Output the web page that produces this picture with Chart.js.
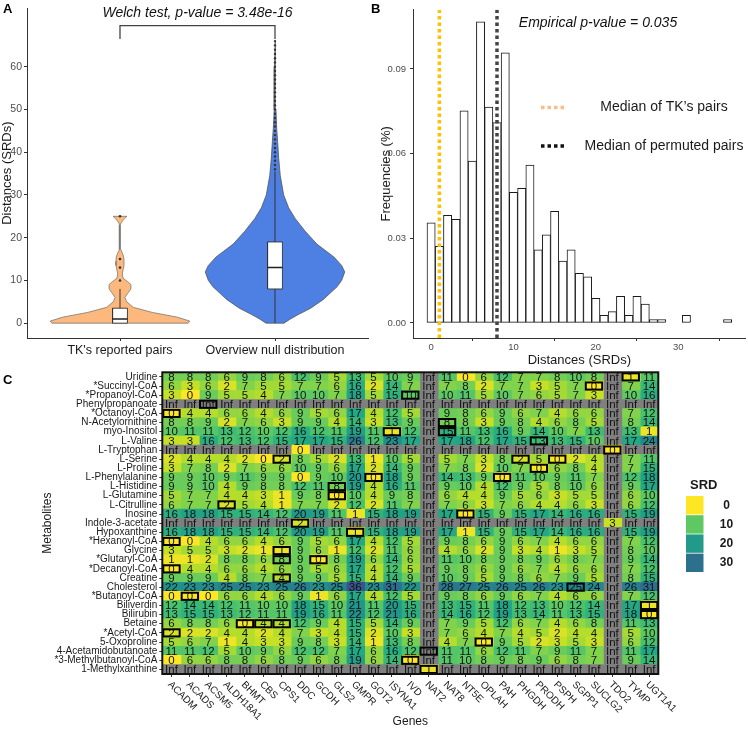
<!DOCTYPE html>
<html>
<head>
<meta charset="utf-8">
<script src="https://cdn.jsdelivr.net/npm/chart.js@4.4.1/dist/chart.umd.min.js"></script>
<style>
  body { margin: 0; background: #fff; }
  #wrap { position: relative; width: 748px; height: 729px; overflow: hidden; }
  canvas { position: absolute; }
</style>
</head>
<body>
<div id="wrap">
  <canvas id="violin" width="374" height="366" style="left:0;top:0"></canvas>
  <canvas id="hist" width="382" height="368" style="left:366px;top:0"></canvas>
  <canvas id="heat" width="748" height="389" style="left:0;top:340px"></canvas>
</div>
<script>
const FONT = '"Liberation Sans", Arial, Helvetica, sans-serif';
Chart.defaults.font.family = FONT;

// ---- panel A : violins ----
const groupsA = ["TK's reported pairs", "Overview null distribution"];
const groupPos = [1, 2];
const yTicksA = [0, 10, 20, 30, 40, 50, 60];
const tkViolinY = [0, 0.5, 1.4, 2.5, 3.7, 5, 6, 7, 8, 9, 9.7, 10.5, 11.5, 12.5, 13.5, 14.5, 15.5, 16.5, 17.2, 18, 20, 22, 23, 23.5, 24, 24.5, 25];
const tkViolinW = [0.44, 0.45, 0.37, 0.21, 0.086, 0.043, 0.032, 0.05, 0.07, 0.071, 0.05, 0.02, 0.015, 0.02, 0.026, 0.026, 0.024, 0.014, 0.006, 0.003, 0.003, 0.003, 0.004, 0.008, 0.018, 0.03, 0.045];
const nullViolinY = [0, 1, 2, 3.5, 5.5, 8.5, 10, 12, 13.5, 15.5, 18.5, 21.5, 24.5, 27, 30, 34.5, 38.5, 42.5, 45.5, 50, 55, 60, 66];
const nullViolinW = [0.058, 0.1, 0.15, 0.23, 0.31, 0.4, 0.43, 0.45, 0.43, 0.38, 0.27, 0.195, 0.13, 0.088, 0.056, 0.034, 0.024, 0.017, 0.011, 0.006, 0.004, 0.003, 0];
const boxQ1 = [0, 8];
const boxMedian = [1, 13];
const boxQ3 = [3.5, 19];
const whiskerLo = [0, 0];
const whiskerHi = [8, 35.5];
const tkOutliers = [10, 13, 15, 25];
const nullOutliers = [36, 37, 38, 39, 40, 41, 42, 43, 44, 45, 46, 47, 48, 49, 50, 51, 52, 53, 54, 55, 56, 57, 58, 59, 60, 61, 62, 63, 64, 65, 66];
const bracketY = [66.5, 69.6];

// ---- panel B : histogram ----
const histBins = [0, 1, 2, 3, 4, 5, 6, 7, 8, 9, 10, 11, 12, 13, 14, 15, 16, 17, 18, 19, 20, 21, 22, 23, 24, 25, 26, 27, 28, 29, 30, 31, 32, 33, 34, 35, 36];
const histFreq = [0.0355, 0.0271, 0.0381, 0.0367, 0.0751, 0.0573, 0.1067, 0.0765, 0.0710, 0.0957, 0.0463, 0.0477, 0.0559, 0.0259, 0.0312, 0.0395, 0.0219, 0.0259, 0.0176, 0.0163, 0.0087, 0.0027, 0.0040, 0.0094, 0.0027, 0.0094, 0.0067, 0.0012, 0.0012, 0, 0, 0.0027, 0, 0, 0, 0, 0.0012];
const histXTicks = [0, 10, 20, 30];
const histYTicks = [0, 0.03, 0.06, 0.09];
const medianTK = 1;
const medianPermuted = 8;

// ---- panel C : heatmap ----
const genes = ["ACADM", "ACADS", "ACSM5", "ALDH18A1", "BHMT", "CBS", "CPS1", "DDC", "GCDH", "GLS2", "GMPR", "GOT2", "ISYNA1", "IVD", "NAT2", "NAT8", "NT5E", "OPLAH", "PAH", "PHGDH", "PRODH", "PSPH", "SGPP1", "SUCLG2", "TDO2", "TYMP", "UGT1A1"];
const metabolites = ["Uridine", "*Succinyl-CoA", "*Propanoyl-CoA", "Phenylpropanoate", "*Octanoyl-CoA", "N-Acetylornithine", "myo-Inositol", "L-Valine", "L-Tryptophan", "L-Serine", "L-Proline", "L-Phenylalanine", "L-Histidine", "L-Glutamine", "L-Citrulline", "Inosine", "Indole-3-acetate", "Hypoxanthine", "*Hexanoyl-CoA", "Glycine", "*Glutaryl-CoA", "*Decanoyl-CoA", "Creatine", "Cholesterol", "*Butanoyl-CoA", "Biliverdin", "Bilirubin", "Betaine", "*Acetyl-CoA", "5-Oxoproline", "4-Acetamidobutanoate", "*3-Methylbutanoyl-CoA", "1-Methylxanthine"];
const Inf = Infinity;
const srd = [
  [8,8,8,6,9,8,6,12,9,5,13,5,10,9,Inf,11,0,6,12,7,7,8,10,8,Inf,1,11],
  [6,3,6,2,7,5,5,7,7,6,16,2,14,7,Inf,7,8,2,7,7,3,5,7,0,Inf,7,14],
  [3,0,9,5,5,4,7,10,10,7,18,5,15,10,Inf,10,11,5,10,7,6,5,7,3,Inf,10,16],
  [Inf,Inf,Inf,Inf,Inf,Inf,Inf,Inf,Inf,Inf,Inf,Inf,Inf,Inf,Inf,Inf,Inf,Inf,Inf,Inf,Inf,Inf,Inf,Inf,Inf,Inf,Inf],
  [0,4,4,6,6,4,6,9,5,6,17,4,12,5,Inf,9,8,6,9,6,7,4,6,6,Inf,7,12],
  [8,8,9,2,7,6,3,9,9,4,14,3,13,9,Inf,8,8,3,9,8,4,6,8,5,Inf,8,14],
  [10,11,11,13,12,10,12,16,12,11,19,11,1,12,Inf,15,11,13,16,9,14,10,7,13,Inf,13,1],
  [3,3,16,12,13,12,15,17,17,15,26,12,23,17,Inf,17,18,12,17,15,13,13,15,10,Inf,17,24],
  [Inf,Inf,Inf,Inf,Inf,Inf,Inf,0,Inf,Inf,Inf,Inf,Inf,Inf,Inf,Inf,Inf,Inf,Inf,Inf,Inf,Inf,Inf,Inf,0,Inf,Inf],
  [2,4,4,4,2,0,2,8,5,2,13,1,10,5,Inf,5,7,3,8,2,5,0,2,4,Inf,7,11],
  [3,7,8,2,7,6,6,10,9,6,17,2,14,9,Inf,7,8,2,10,7,0,6,8,4,Inf,7,15],
  [9,9,10,9,11,9,9,0,9,10,20,0,18,9,Inf,14,13,9,0,11,10,9,11,7,Inf,12,18],
  [9,9,10,4,9,8,8,12,11,8,19,4,16,11,Inf,9,10,4,12,9,5,8,10,6,Inf,9,17],
  [5,7,7,4,4,3,1,9,8,0,10,4,9,8,Inf,6,4,4,9,5,6,3,5,5,Inf,6,10],
  [6,7,7,2,5,4,1,7,7,2,12,2,11,7,Inf,7,6,3,7,6,4,4,6,3,Inf,6,12],
  [16,18,18,15,15,14,12,20,19,11,1,15,18,19,Inf,17,0,15,9,15,17,14,16,16,Inf,15,19],
  [Inf,Inf,Inf,Inf,Inf,Inf,Inf,2,Inf,Inf,Inf,Inf,Inf,Inf,Inf,Inf,Inf,Inf,Inf,Inf,Inf,Inf,Inf,Inf,3,Inf,Inf],
  [16,18,18,15,15,14,12,20,19,11,1,15,18,19,Inf,17,1,15,9,15,17,14,16,16,Inf,15,19],
  [0,0,4,6,6,4,6,9,5,6,17,4,12,5,Inf,9,8,6,9,6,7,4,6,6,Inf,7,12],
  [3,5,5,3,2,1,1,9,6,1,12,2,11,6,Inf,4,6,2,9,3,4,1,3,5,Inf,8,10],
  [1,1,2,8,8,6,8,9,0,8,19,6,14,6,Inf,11,10,8,9,8,9,6,8,7,Inf,9,14],
  [0,4,4,6,6,4,6,9,5,6,17,4,12,5,Inf,9,8,6,9,6,7,4,6,6,Inf,7,12],
  [9,9,9,4,8,7,4,9,9,5,15,4,14,9,Inf,10,9,5,9,8,6,7,9,5,Inf,8,15],
  [22,23,23,25,25,23,25,26,23,25,36,23,31,22,Inf,28,27,25,26,25,26,23,25,24,Inf,26,31],
  [0,0,0,6,6,4,6,9,1,6,17,4,12,5,Inf,9,8,6,9,6,7,4,6,6,Inf,7,12],
  [12,14,14,12,11,10,10,18,15,10,21,11,20,15,Inf,13,15,11,18,12,13,10,12,14,Inf,17,1],
  [13,15,15,13,12,11,11,19,16,11,22,12,21,16,Inf,14,16,12,19,13,14,11,13,15,Inf,18,0],
  [6,8,8,6,0,4,4,12,9,4,15,5,14,9,Inf,7,9,5,12,6,7,4,6,8,Inf,11,13],
  [2,2,2,4,4,2,4,7,3,4,15,2,10,3,Inf,7,6,4,7,4,5,2,4,4,Inf,5,10],
  [5,6,7,1,4,3,3,9,8,3,14,1,13,8,Inf,4,7,0,9,5,2,3,5,3,Inf,6,12],
  [11,11,12,5,10,9,6,12,12,7,17,6,16,12,Inf,11,11,6,12,11,7,9,11,7,Inf,11,17],
  [0,6,6,8,8,6,8,9,6,8,19,6,14,0,Inf,11,10,8,9,8,9,6,8,7,Inf,9,14],
  [Inf,Inf,Inf,Inf,Inf,Inf,Inf,Inf,Inf,Inf,Inf,Inf,Inf,Inf,1,Inf,Inf,Inf,Inf,Inf,Inf,Inf,Inf,Inf,Inf,Inf,Inf]
];
// cells outlined in black (TK's reported pairs)
const tkPairs = [
  ["Uridine", "TYMP"], ["*Succinyl-CoA", "SUCLG2"], ["*Propanoyl-CoA", "IVD"], ["Phenylpropanoate", "ACSM5"],
  ["*Octanoyl-CoA", "ACADM"], ["N-Acetylornithine", "NAT8"], ["myo-Inositol", "ISYNA1"], ["myo-Inositol", "NAT8"],
  ["L-Valine", "PRODH"], ["L-Tryptophan", "TDO2"], ["L-Serine", "CPS1"], ["L-Serine", "PHGDH"], ["L-Serine", "PSPH"],
  ["L-Proline", "PRODH"], ["L-Phenylalanine", "GOT2"], ["L-Phenylalanine", "PAH"], ["L-Histidine", "GLS2"],
  ["L-Glutamine", "GLS2"], ["L-Citrulline", "ALDH18A1"], ["Inosine", "NT5E"], ["Indole-3-acetate", "DDC"],
  ["Hypoxanthine", "GMPR"], ["*Hexanoyl-CoA", "ACADM"], ["Glycine", "CPS1"], ["*Glutaryl-CoA", "CPS1"],
  ["*Glutaryl-CoA", "GCDH"], ["*Decanoyl-CoA", "ACADM"], ["Creatine", "CPS1"], ["Cholesterol", "SGPP1"],
  ["*Butanoyl-CoA", "ACADS"], ["Biliverdin", "UGT1A1"], ["Bilirubin", "UGT1A1"], ["Betaine", "BHMT"],
  ["Betaine", "CBS"], ["Betaine", "CPS1"], ["*Acetyl-CoA", "ACADM"], ["5-Oxoproline", "OPLAH"],
  ["4-Acetamidobutanoate", "NAT2"], ["*3-Methylbutanoyl-CoA", "IVD"], ["1-Methylxanthine", "NAT2"]
];
const legendVals = [0, 10, 20, 30];

// viridis-like colour ramp, yellow at 0
const colourStops = [[0, [253, 231, 37]], [3.5, [189, 223, 38]], [7.5, [122, 209, 81]], [10, [94, 201, 98]],
  [12.5, [68, 191, 112]], [17, [34, 168, 132]], [22, [33, 145, 140]], [27, [42, 120, 142]], [32, [47, 106, 142]], [36, [59, 82, 139]]];
function cellColour(v) {
  if (v === Inf) return '#7f7f7f';
  for (let i = 1; i < colourStops.length; i++) {
    const [v1, c1] = colourStops[i];
    const [v0, c0] = colourStops[i - 1];
    if (v <= v1) {
      const t = (v - v0) / (v1 - v0);
      const c = c0.map((a, k) => Math.round(a + (c1[k] - a) * t));
      return `rgb(${c[0]},${c[1]},${c[2]})`;
    }
  }
  return 'rgb(59,82,139)';
}

// ================= A =================
const BOX_HW = 0.048;
function violinPath(pos, ys, ws) {
  const right = ys.map((y, i) => ({x: pos + ws[i], y}));
  const left = ys.map((y, i) => ({x: pos - ws[i], y})).reverse();
  return right.concat(left, [right[0]]);
}
function boxPath(pos, lo, hi) {
  return [{x: pos - BOX_HW, y: lo}, {x: pos + BOX_HW, y: lo}, {x: pos + BOX_HW, y: hi},
          {x: pos - BOX_HW, y: hi}, {x: pos - BOX_HW, y: lo}];
}
const lineDs = (data, colour, width, order) => ({data, showLine: true, borderColor: colour, borderWidth: width, pointRadius: 0, fill: false, order});

const violinText = {
  id: 'violinText',
  afterDraw(chart) {
    const {ctx, scales} = chart;
    ctx.save();
    ctx.fillStyle = '#000';
    ctx.font = 'bold 13px ' + FONT;
    ctx.textBaseline = 'middle';
    ctx.fillText('A', 3, 9);
    ctx.font = 'italic 14px ' + FONT;
    ctx.textAlign = 'center';
    ctx.fillStyle = '#111';
    ctx.fillText('Welch test, p-value = 3.48e-16', scales.x.getPixelForValue(1.5), 13);
    ctx.restore();
  }
};

new Chart(document.getElementById('violin'), {
  type: 'scatter',
  data: {
    datasets: [
      {data: violinPath(groupPos[0], tkViolinY, tkViolinW), showLine: true, fill: 'shape',
       backgroundColor: '#fdb97d', borderColor: '#777', borderWidth: 0.8, pointRadius: 0, order: 9},
      {data: violinPath(groupPos[1], nullViolinY, nullViolinW), showLine: true, fill: 'shape',
       backgroundColor: '#4e7fe2', borderColor: '#555', borderWidth: 0.8, pointRadius: 0, order: 9},
      lineDs(groupPos.map(() => null).length && [{x: groupPos[0], y: whiskerLo[0]}, {x: groupPos[0], y: whiskerHi[0]}], '#333', 1, 6),
      lineDs([{x: groupPos[1], y: whiskerLo[1]}, {x: groupPos[1], y: whiskerHi[1]}], '#333', 1, 6),
      {data: boxPath(groupPos[0], boxQ1[0], boxQ3[0]), showLine: true, fill: 'shape', backgroundColor: '#fff',
       borderColor: '#333', borderWidth: 0.9, pointRadius: 0, order: 5},
      {data: boxPath(groupPos[1], boxQ1[1], boxQ3[1]), showLine: true, fill: 'shape', backgroundColor: '#fff',
       borderColor: '#333', borderWidth: 0.9, pointRadius: 0, order: 5},
      lineDs([{x: groupPos[0] - BOX_HW, y: boxMedian[0]}, {x: groupPos[0] + BOX_HW, y: boxMedian[0]}], '#222', 1.5, 4),
      lineDs([{x: groupPos[1] - BOX_HW, y: boxMedian[1]}, {x: groupPos[1] + BOX_HW, y: boxMedian[1]}], '#222', 1.5, 4),
      {data: tkOutliers.map(y => ({x: groupPos[0], y})), pointRadius: 1.3, pointBackgroundColor: '#333', pointBorderWidth: 0, order: 3},
      {data: nullOutliers.map(y => ({x: groupPos[1], y})), pointRadius: 1.2, pointBackgroundColor: '#333', pointBorderWidth: 0, order: 3},
      lineDs([{x: groupPos[0], y: bracketY[0]}, {x: groupPos[0], y: bracketY[1]}, {x: groupPos[1], y: bracketY[1]}, {x: groupPos[1], y: bracketY[0]}], '#444', 1.3, 2)
    ]
  },
  options: {
    responsive: false, animation: false, devicePixelRatio: 1,
    layout: {padding: {left: 0, right: 6, top: 5, bottom: 0}},
    plugins: {legend: {display: false}, tooltip: {enabled: false}},
    scales: {
      x: {
        type: 'linear', min: 0.4, max: 2.6,
        afterBuildTicks: s => { s.ticks = groupPos.map(v => ({value: v})); },
        ticks: {callback: (v, i) => groupsA[i], font: {size: 12.5}, color: '#1a1a1a', padding: 2, maxRotation: 0, autoSkip: false},
        grid: {drawOnChartArea: false, tickLength: 3, color: '#333'},
        border: {color: '#333', width: 1},
        afterFit: s => { s.height = 28; }
      },
      y: {
        min: -3.47, max: 73.67,
        afterBuildTicks: s => { s.ticks = yTicksA.map(v => ({value: v})); },
        ticks: {font: {size: 10.5}, color: '#4d4d4d', padding: 2},
        grid: {drawOnChartArea: false, tickLength: 3, color: '#333'},
        border: {color: '#333', width: 1},
        title: {display: true, text: 'Distances (SRDs)', font: {size: 13}, color: '#1a1a1a', padding: 0},
        afterFit: s => { s.width = 27; }
      }
    }
  },
  plugins: [violinText]
});

// ================= B =================
const histText = {
  id: 'histText',
  afterDraw(chart) {
    const {ctx} = chart;
    ctx.save();
    ctx.fillStyle = '#000';
    ctx.font = 'bold 13px ' + FONT;
    ctx.textBaseline = 'middle';
    ctx.fillText('B', 5, 9);
    ctx.font = 'italic 14px ' + FONT;
    ctx.textAlign = 'center';
    ctx.fillStyle = '#111';
    ctx.fillText('Empirical p-value = 0.035', 232, 23);
    // legend
    const keys = [['Median of TK\u2019s pairs', '#f9bd8c', 107.5], ['Median of permuted pairs', '#111', 146]];
    keys.forEach(([label, colour, y]) => {
      ctx.strokeStyle = colour;
      ctx.lineWidth = 3.5;
      ctx.setLineDash([3.5, 3]);
      ctx.beginPath(); ctx.moveTo(175, y); ctx.lineTo(199, y); ctx.stroke();
      ctx.fillStyle = '#1a1a1a';
      ctx.font = '14px ' + FONT;
      ctx.fillText(label, 298, y);
    });
    ctx.restore();
  }
};

new Chart(document.getElementById('hist'), {
  type: 'bar',
  data: {
    datasets: [
      {type: 'bar', data: histBins.map((b, i) => ({x: b, y: histFreq[i]})),
       backgroundColor: '#fff', borderColor: '#1a1a1a',
       borderWidth: c => (c.raw && c.raw.y > 0 ? 1 : 0), borderSkipped: false,
       barPercentage: 1, categoryPercentage: 1, order: 3},
      {type: 'line', data: [{x: medianTK, y: -0.00534}, {x: medianTK, y: 0.11097}],
       borderColor: '#ffc000', borderWidth: 3.5, borderDash: [3.5, 3], pointRadius: 0, order: 2},
      {type: 'line', data: [{x: medianPermuted, y: -0.00534}, {x: medianPermuted, y: 0.11097}],
       borderColor: '#444', borderWidth: 3.5, borderDash: [3.5, 3], pointRadius: 0, order: 1}
    ]
  },
  options: {
    responsive: false, animation: false, devicePixelRatio: 1,
    layout: {padding: {left: 12.5, right: 2.3, top: 5, bottom: 0}},
    plugins: {legend: {display: false}, tooltip: {enabled: false}},
    scales: {
      x: {
        type: 'linear', min: -2.2, max: 38.2, offset: false,
        afterBuildTicks: s => { s.ticks = histXTicks.map(v => ({value: v})); },
        ticks: {font: {size: 9.5}, color: '#4d4d4d', padding: 1, maxRotation: 0},
        grid: {drawOnChartArea: false, tickLength: 3, color: '#333'},
        border: {color: '#333', width: 1},
        title: {display: true, text: 'Distances (SRDs)', font: {size: 13}, color: '#1a1a1a', padding: 0},
        afterFit: s => { s.height = 30; }
      },
      y: {
        min: -0.00534, max: 0.11097,
        afterBuildTicks: s => { s.ticks = histYTicks.map(v => ({value: v})); },
        ticks: {font: {size: 9.5}, color: '#4d4d4d', padding: 4, callback: v => v.toFixed(2)},
        grid: {drawOnChartArea: false, tickLength: 3, color: '#333'},
        border: {color: '#333', width: 1},
        title: {display: true, text: 'Frequencies (%)', font: {size: 13}, color: '#1a1a1a', padding: 0},
        afterFit: s => { s.width = 34.5; }
      }
    }
  },
  plugins: [histText]
});

// ================= C =================
const heatText = {
  id: 'heatText',
  afterDatasetsDraw(chart) {
    const {ctx} = chart;
    ctx.save();
    ctx.font = '11.5px ' + FONT;
    ctx.textAlign = 'center';
    ctx.textBaseline = 'middle';
    ctx.fillStyle = '#111';
    genes.forEach((g, gi) => {
      chart.getDatasetMeta(gi).data.forEach((bar, mi) => {
        const v = srd[mi][gi];
        const p = bar.getCenterPoint();
        ctx.fillText(v === Inf ? 'Inf' : String(v), p.x, p.y + 0.5);
      });
    });
    ctx.strokeStyle = '#000';
    ctx.lineWidth = 2;
    tkPairs.forEach(([m, g]) => {
      const bar = chart.getDatasetMeta(genes.indexOf(g)).data[metabolites.indexOf(m)];
      const {x, y, base, height} = bar.getProps(['x', 'y', 'base', 'height'], true);
      ctx.strokeRect(base + 1, y - height / 2 + 1, x - base - 2, height - 2);
    });
    const a = chart.chartArea;
    ctx.lineWidth = 2;
    ctx.strokeStyle = '#111';
    ctx.strokeRect(a.left, a.top, a.right - a.left, a.bottom - a.top);
    ctx.restore();
  },
  afterDraw(chart) {
    const {ctx, chartArea} = chart;
    const gScale = chart.scales.g;
    ctx.save();
    ctx.fillStyle = '#000';
    ctx.font = 'bold 13px ' + FONT;
    ctx.textBaseline = 'middle';
    ctx.fillText('C', 3, 40);
    // gene labels, rotated 45 degrees
    ctx.font = '10px ' + FONT;
    ctx.fillStyle = '#1a1a1a';
    genes.forEach((g, i) => {
      ctx.save();
      ctx.translate(gScale.getPixelForTick(i) - 2, chartArea.bottom + 9);
      ctx.rotate(Math.PI / 4);
      ctx.textAlign = 'left';
      ctx.fillText(g, 0, 0);
      ctx.restore();
    });
    // SRD legend
    ctx.fillStyle = '#1a1a1a';
    ctx.font = 'bold 13px ' + FONT;
    ctx.textAlign = 'left';
    ctx.fillText('SRD', 690, 145);
    ctx.font = 'bold 12px ' + FONT;
    ctx.textAlign = 'center';
    legendVals.forEach((v, i) => {
      const y0 = 156 + i * 19.2;
      ctx.fillStyle = cellColour(v);
      ctx.fillRect(686, y0, 17.5, 18.4);
      ctx.fillStyle = '#1a1a1a';
      ctx.fillText(String(v), 726.5, y0 + 9.5);
    });
    ctx.restore();
  }
};

new Chart(document.getElementById('heat'), {
  type: 'bar',
  data: {
    labels: metabolites,
    datasets: genes.map((g, gi) => ({
      label: g,
      data: metabolites.map(() => 1),
      backgroundColor: c => cellColour(srd[c.dataIndex][gi]),
      borderWidth: 0,
      barPercentage: 1,
      categoryPercentage: 1,
      inflateAmount: 0.6,
      xAxisID: 'x',
      yAxisID: 'y'
    }))
  },
  options: {
    indexAxis: 'y',
    responsive: false, animation: false, devicePixelRatio: 1,
    layout: {padding: {left: 0, right: 89.7, top: 32.3, bottom: 0}},
    plugins: {legend: {display: false}, tooltip: {enabled: false}},
    scales: {
      x: {type: 'linear', stacked: true, min: 0, max: genes.length, display: false},
      g: {
        type: 'category', labels: genes, position: 'bottom', offset: true,
        grid: {drawOnChartArea: false, offset: false, tickLength: 3, color: '#333'},
        border: {display: false},
        ticks: {display: false},
        title: {display: true, text: 'Genes', font: {size: 12}, color: '#1a1a1a', padding: 0},
        afterFit: s => { s.height = 55; }
      },
      y: {
        type: 'category', stacked: true, offset: true,
        grid: {drawOnChartArea: false, offset: false, tickLength: 3, color: '#333'},
        border: {display: false},
        ticks: {font: {size: 10}, color: '#1a1a1a', padding: 2, autoSkip: false},
        title: {display: true, text: 'Metabolites', font: {size: 12}, color: '#1a1a1a', padding: {top: 40, bottom: 0}},
        afterFit: s => { s.width = 162.3; }
      }
    }
  },
  plugins: [heatText]
});
</script>
</body>
</html>
